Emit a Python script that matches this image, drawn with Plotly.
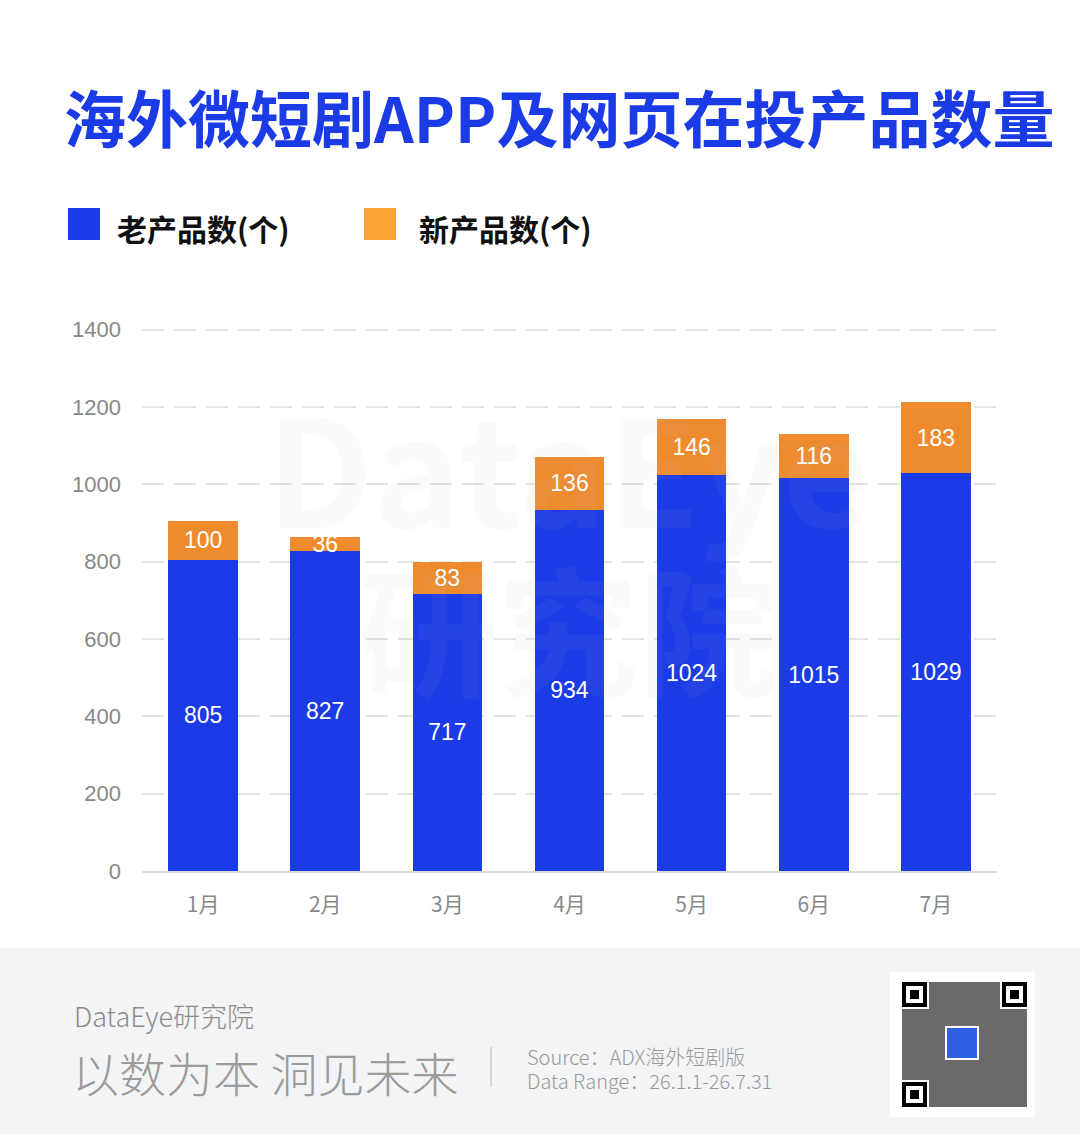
import plotly.graph_objects as go

# data
months = ['1月', '2月', '3月', '4月', '5月', '6月', '7月']
old_products = [805, 827, 717, 934, 1024, 1015, 1029]
new_products = [100, 36, 83, 136, 146, 116, 183]
series_names = ['老产品数(个)', '新产品数(个)']
y_ticks = [0, 200, 400, 600, 800, 1000, 1200, 1400]

W, H = 1080, 1134
PLOT_L, PLOT_R, PLOT_T, PLOT_B = 142, 997, 328, 871
FONT = 'Noto Sans CJK SC'
BLUE = '#1a3be6'
ORANGE = '#ef8b2f'
ORANGE_KEY = '#f8a436'


def px(x):
    return (x - PLOT_L) / (PLOT_R - PLOT_L)


def py(y):
    return (PLOT_B - y) / (PLOT_B - PLOT_T)


def text(x, y, s, size, color, weight=400, anchor='left'):
    return dict(
        x=px(x), y=py(y), xref='paper', yref='paper', text=s,
        showarrow=False, xanchor=anchor, yanchor='middle',
        font=dict(family=FONT, size=size, color=color, weight=weight)
    )


def rect(x0, y0, x1, y1, color, layer='above'):
    return dict(
        type='rect', xref='paper', yref='paper',
        x0=px(x0), x1=px(x1), y0=py(y0), y1=py(y1),
        fillcolor=color, line=dict(width=0), layer=layer
    )


fig = go.Figure()
fig.add_trace(
    go.Bar(
        x=months, y=old_products, name=series_names[0],
        marker=dict(color=BLUE, line=dict(width=0)),
        text=old_products, textposition='inside',
        insidetextanchor='middle', textangle=0,
        textfont=dict(family='Liberation Sans', size=23, color='white')
    )
)
fig.add_trace(
    go.Bar(
        x=months, y=new_products, name=series_names[1],
        marker=dict(color=ORANGE, line=dict(width=0)),
        text=new_products, textposition='inside',
        insidetextanchor='middle', constraintext='none', textangle=0,
        textfont=dict(family='Liberation Sans', size=23, color='white')
    )
)

shapes = [
    # footer band
    rect(-10, 948, W + 10, H + 10, '#f3f4f6', layer='below'),
    # legend keys
    rect(68, 208, 100, 240, BLUE),
    rect(364, 208, 396, 240, ORANGE_KEY),
    # divider in footer
    dict(type='line', xref='paper', yref='paper', x0=px(491), x1=px(491),
         y0=py(1047), y1=py(1087), line=dict(color='#cccccc', width=1.5)),
    # qr code block
    rect(890, 972, 1035, 1117, 'white'),
    rect(902, 982, 1027, 1107, '#6a6a6a'),
]
for fx, fy in [(902, 982), (1002, 982), (902, 1082)]:
    shapes.append(rect(fx - 2, fy - 2, fx + 27, fy + 27, 'white'))
    shapes.append(rect(fx, fy, fx + 25, fy + 25, 'black'))
    shapes.append(rect(fx + 4, fy + 4, fx + 21, fy + 21, 'white'))
    shapes.append(rect(fx + 8, fy + 8, fx + 17, fy + 17, 'black'))
shapes.append(rect(945, 1026, 979, 1060, 'white'))
shapes.append(rect(947, 1028, 977, 1058, '#2f5fe0'))

annotations = [
    text(559, 116, '海外微短剧APP及网页在投产品数量', 62, BLUE, 700, 'center'),
    text(115, 228, series_names[0], 30, '#111111', 700),
    text(417, 228, series_names[1], 30, '#111111', 700),
    # faint watermark
    text(568, 462, 'DataEye', 150, 'rgba(180,180,180,0.07)', 700, 'center'),
    text(568, 625, '研究院', 140, 'rgba(180,180,180,0.07)', 700, 'center'),
    # footer
    text(72, 1015, 'DataEye研究院', 27, '#8c8c8c', 300),
    text(70, 1071, '以数为本 洞见未来', 47, '#9b9b9b', 300),
    text(525, 1056, 'Source：ADX海外短剧版', 20, '#9a9a9a', 300),
    text(525, 1080, 'Data Range：26.1.1-26.7.31', 20, '#9a9a9a', 300),
]

fig.update_layout(
    width=W, height=H,
    margin=dict(l=PLOT_L, r=W - PLOT_R, t=PLOT_T, b=H - PLOT_B),
    paper_bgcolor='white', plot_bgcolor='white',
    barmode='stack', bargap=0.43,
    showlegend=False,
    uniformtext=dict(minsize=23, mode='show'),
    font=dict(family=FONT, color='#888888'),
    xaxis=dict(
        showgrid=False, showline=True, linecolor='#dddddd', linewidth=1.5,
        ticks='', tickfont=dict(size=21, color='#888888'),
        ticklabelstandoff=14
    ),
    yaxis=dict(
        range=[0, 1404], tickvals=y_ticks, showgrid=True,
        gridcolor='#e4e4e4', gridwidth=2, griddash='22px,10px',
        zeroline=False, showline=False, ticks='',
        tickfont=dict(family='Liberation Sans', size=22, color='#888888'),
        ticklabelstandoff=20
    ),
    shapes=shapes,
    annotations=annotations
)

fig.write_html(
    'out.html',
    config={'displayModeBar': False},
    post_script="document.body.style.margin='0';"
)
